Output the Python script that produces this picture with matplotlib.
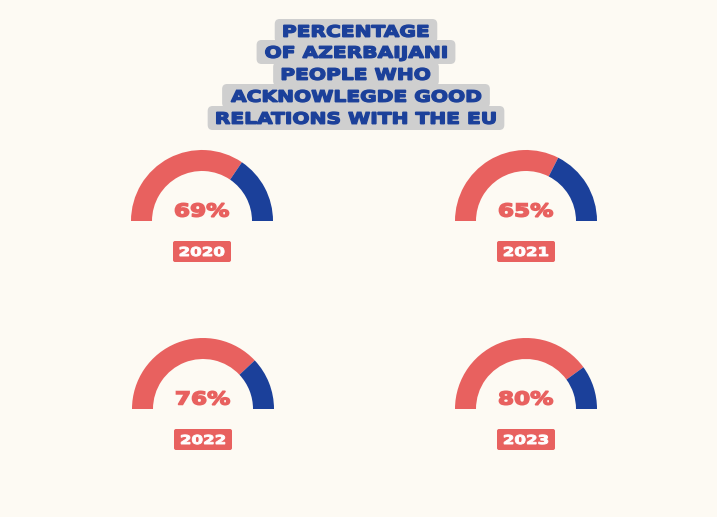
"""
Полукруглые индикаторы: доля жителей Азербайджана,
признающих хорошие отношения с ЕС, по годам.
"""

import matplotlib.pyplot as plt
from matplotlib.patches import Wedge, PathPatch, FancyBboxPatch
from matplotlib.textpath import TextPath
from matplotlib.font_manager import FontProperties
from matplotlib.transforms import Affine2D

# ---------- Данные ----------
years = ["2020", "2021", "2022", "2023"]
percent = [69, 65, 76, 80]
title_lines = [
    "PERCENTAGE",
    "OF AZERBAIJANI",
    "PEOPLE WHO",
    "ACKNOWLEGDE GOOD",
    "RELATIONS WITH THE EU",
]

# ---------- Оформление ----------
BG = "#FDFAF3"
RED = "#E8615F"
BLUE = "#1B409A"
GREY = "#CFCFCF"

FP = FontProperties(family="DejaVu Sans", weight="bold")
CAP = 0.729  # высота прописных в DejaVu Sans Bold (доля кегля)


def wide_text(ax, x, y, s, cap, stretch, color, lw=0.7, zorder=3):
    """Рисует растянутый по ширине жирный текст (ось y перевёрнута)."""
    tp = TextPath((0, 0), s, size=100, prop=FP)
    bb = tp.get_extents()
    k = cap / (CAP * 100)
    tr = (Affine2D()
          .translate(-(bb.x0 + bb.x1) / 2, -CAP * 100 / 2)
          .scale(k * stretch, -k)
          .translate(x, y))
    path = tr.transform_path(tp)
    ax.add_patch(PathPatch(path, fc=color, ec=color, lw=lw, zorder=zorder))
    return (bb.x1 - bb.x0) * k * stretch


W, H = 717, 517
fig = plt.figure(figsize=(W / 100, H / 100), dpi=100, facecolor=BG)
ax = fig.add_axes([0, 0, 1, 1])
ax.set_xlim(0, W)
ax.set_ylim(H, 0)
ax.set_aspect("equal")
ax.axis("off")
ax.set_facecolor(BG)

# Заголовок: каждая строка на своей серой "плашке"
title_y = [31, 52, 74, 96, 118]
for line, y in zip(title_lines, title_y):
    w = wide_text(ax, 356, y, line, cap=11.5, stretch=1.28, color=BLUE,
                  lw=1.0)
    ax.add_patch(FancyBboxPatch((356 - w / 2 - 6, y - 9), w + 12, 18,
                                boxstyle="round,pad=3,rounding_size=5",
                                fc=GREY, ec="none", zorder=1))

# ---------- Индикаторы ----------
centers = [(202, 221), (526, 221), (203, 409), (526, 409)]
r_out, width = 71, 21

for (cx, cy), p, yr in zip(centers, percent, years):
    split = 180 - 180 * p / 100
    # ось y перевёрнута, поэтому углы отражаем
    ax.add_patch(Wedge((cx, cy), r_out, 180, 360 - split, width=width,
                       fc=RED, ec="none"))
    ax.add_patch(Wedge((cx, cy), r_out, 360 - split, 360, width=width,
                       fc=BLUE, ec="none"))
    wide_text(ax, cx, cy - 11, f"{p}%", cap=13, stretch=1.3, color=RED,
              lw=1.1)
    ax.add_patch(FancyBboxPatch((cx - 29, cy + 20), 58, 21,
                                boxstyle="round,pad=0,rounding_size=2",
                                fc=RED, ec="none", zorder=2))
    wide_text(ax, cx, cy + 30.5, yr, cap=9, stretch=1.35, color="white",
              lw=0.7)

fig.savefig("out.png", dpi=100, facecolor=BG)
plt.close(fig)
